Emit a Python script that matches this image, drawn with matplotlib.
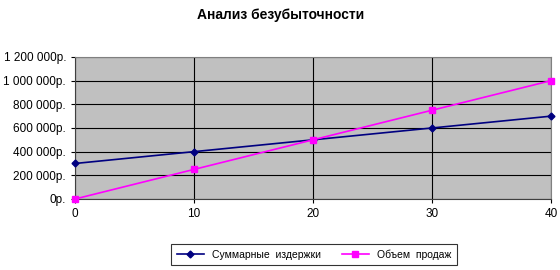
import matplotlib
matplotlib.use('Agg')
import matplotlib.pyplot as plt
from matplotlib.ticker import FuncFormatter

plt.rcParams['font.family'] = ['Liberation Sans', 'DejaVu Sans']

# данные
x_vals = [0, 10, 20, 30, 40]
costs = [300000, 400000, 500000, 600000, 700000]
sales = [0, 250000, 500000, 750000, 1000000]
y_ticks = [0, 200000, 400000, 600000, 800000, 1000000, 1200000]
labels = ['Суммарные  издержки', 'Объем  продаж']
title = 'Анализ безубыточности'


def rub(v, p):
    return f'{int(v):,}'.replace(',', ' ') + 'р.'


fig = plt.figure(figsize=(5.6, 2.7), dpi=100)
ax = fig.add_axes([0.134, 0.263, 0.850, 0.526])
ax.set_facecolor('#C0C0C0')

ax.plot(x_vals, costs, color='#000080', marker='D', markersize=3.5, lw=1.2,
        label=labels[0], clip_on=False, zorder=3)
ax.plot(x_vals, sales, color='#FF00FF', marker='s', markersize=5, lw=1.2,
        label=labels[1], clip_on=False, zorder=3)

ax.set_xlim(0, 40)
ax.set_ylim(0, 1200000)
ax.set_xticks(x_vals)
ax.set_yticks(y_ticks)
ax.yaxis.set_major_formatter(FuncFormatter(rub))
ax.grid(True, color='black', lw=0.8)
ax.set_axisbelow(True)
ax.tick_params(labelsize=8.5, length=3, width=0.8, colors='black')

for s in ['top', 'right']:
    ax.spines[s].set_color('#808080')
    ax.spines[s].set_linewidth(0.8)
for s in ['left', 'bottom']:
    ax.spines[s].set_color('#404040')
    ax.spines[s].set_linewidth(0.8)

fig.text(0.502, 0.945, title, ha='center', va='center',
         fontsize=10, fontweight='bold')

leg = fig.legend(loc='center', bbox_to_anchor=(0.561, 0.056), ncol=2,
                 fontsize=7.5, frameon=True, fancybox=False, handlelength=2.6,
                 columnspacing=2.0, borderpad=0.5)
leg.get_frame().set_edgecolor('black')
leg.get_frame().set_linewidth(0.8)

plt.savefig('out.png', dpi=100)
plt.close()
